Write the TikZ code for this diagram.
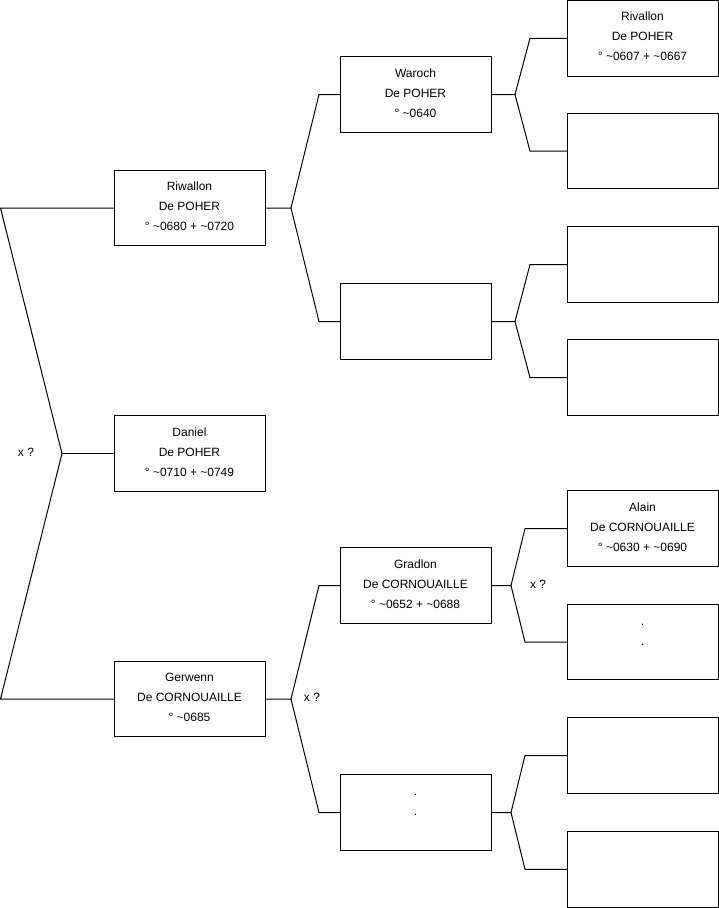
\documentclass[tikz,border=0pt]{standalone}
\usepackage{fontspec}
\setmainfont{Liberation Sans}
\begin{document}
\begin{tikzpicture}[x=1pt,y=-1pt,
  person/.style={draw=black, line width=1pt, minimum width=151pt, minimum height=75.5pt,
    inner sep=0pt, outer sep=0pt, align=center, text depth=3.5pt, font=\fontsize{12}{20}\selectfont},
  dots/.style={text height=46pt, text depth=0pt},
  link/.style={draw=black, line width=1pt, line join=miter},
  lbl/.style={font=\fontsize{12}{14}\selectfont, inner sep=0pt}]
\useasboundingbox (0,0) rectangle (719,908);
% generation 1
\node[person] (riw) at (189.5,208) {Riwallon\\De POHER\\° \textasciitilde0680 + \textasciitilde0720};
\node[person] (dan) at (189.5,453.5) {Daniel\\De POHER\\° \textasciitilde0710 + \textasciitilde0749};
\node[person] (ger) at (189.5,699) {Gerwenn\\De CORNOUAILLE\\° \textasciitilde0685};
% generation 2
\node[person] (war) at (415.5,94.5) {Waroch\\De POHER\\° \textasciitilde0640};
\node[person] (e2a) at (415.5,321.5) {};
\node[person] (gra) at (415.5,585.5) {Gradlon\\De CORNOUAILLE\\° \textasciitilde0652 + \textasciitilde0688};
\node[person, dots] (d2) at (415.5,812.5) {.\\.\\~};
% generation 3
\node[person] (riv) at (642.5,38.25) {Rivallon\\De POHER\\° \textasciitilde0607 + \textasciitilde0667};
\node[person] (e3b) at (642.5,151) {};
\node[person] (e3c) at (642.5,264.5) {};
\node[person] (e3d) at (642.5,377.5) {};
\node[person] (ala) at (642.5,528.5) {Alain\\De CORNOUAILLE\\° \textasciitilde0630 + \textasciitilde0690};
\node[person, dots] (d3) at (642.5,642) {.\\.\\~};
\node[person] (e3g) at (642.5,755.5) {};
\node[person] (e3h) at (642.5,869.25) {};
% junctions
\coordinate (j0) at (62,453.5);
\coordinate (j0a) at (0.5,208);
\coordinate (j0b) at (0.5,699);
\coordinate (j1) at (291,208);
\coordinate (j2) at (291,699);
\coordinate (j3) at (515,94.5);
\coordinate (j4) at (515,321.5);
\coordinate (j5) at (511,585.5);
\coordinate (j6) at (511,812.5);
% connectors
\draw[link] (riw.west) -- (j0a) -- (j0) -- (j0b) -- (ger.west);
\draw[link] (j0) -- (dan.west);
\draw[link] (riw.east) -- (j1) -- ([xshift=-21pt]war.west) -- (war.west);
\draw[link] (j1) -- ([xshift=-21pt]e2a.west) -- (e2a.west);
\draw[link] (ger.east) -- (j2) -- ([xshift=-21pt]gra.west) -- (gra.west);
\draw[link] (j2) -- ([xshift=-21pt]d2.west) -- (d2.west);
\draw[link] (war.east) -- (j3) -- ([xshift=-37pt]riv.west) -- (riv.west);
\draw[link] (j3) -- ([xshift=-37pt]e3b.west) -- (e3b.west);
\draw[link] (e2a.east) -- (j4) -- ([xshift=-37pt]e3c.west) -- (e3c.west);
\draw[link] (j4) -- ([xshift=-37pt]e3d.west) -- (e3d.west);
\draw[link] (gra.east) -- (j5) -- ([xshift=-42pt]ala.west) -- (ala.west);
\draw[link] (j5) -- ([xshift=-42pt]d3.west) -- (d3.west);
\draw[link] (d2.east) -- (j6) -- ([xshift=-42pt]e3g.west) -- (e3g.west);
\draw[link] (j6) -- ([xshift=-42pt]e3h.west) -- (e3h.west);
% labels
\node[lbl] (x0) at (26,452) {x ?};
\node[lbl] (x1) at (312,697) {x ?};
\node[lbl] (x2) at (538,584) {x ?};
\end{tikzpicture}
\end{document}
